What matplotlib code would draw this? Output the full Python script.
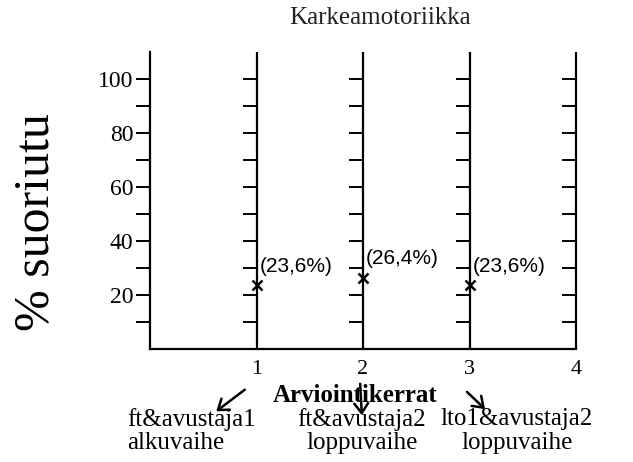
import matplotlib.pyplot as plt
from matplotlib.patches import FancyArrowPatch

# chart values
kerrat = [1, 2, 3, 4]                      # x tick positions / labels
pisteet_x = [1, 2, 3]
pisteet_y = [23.6, 26.4, 23.6]
pisteet_teksti = ['(23,6%)', '(26,4%)', '(23,6%)']
y_major = [20, 40, 60, 80, 100]
y_all = list(range(10, 101, 10))
alaotsikot = ['ft&avustaja1\nalkuvaihe', 'ft&avustaja2\nloppuvaihe', 'lto1&avustaja2\nloppuvaihe']

serif = 'Liberation Serif'
sans = 'Liberation Sans'
W, H = 633, 462


def fx(px):   # image pixel -> figure fraction
    return px / W


def fy(py):
    return 1 - py / H


fig = plt.figure(figsize=(6.33, 4.62), dpi=100)
ax = fig.add_axes([fx(150), fy(349), 426 / W, 297 / H])
ax.set_xlim(0, 4)
ax.set_ylim(0, 110)

for s in ['top', 'right']:
    ax.spines[s].set_visible(False)
for s in ['left', 'bottom']:
    ax.spines[s].set_linewidth(1.6)

# left axis ticks
ax.set_yticks(y_all)
ax.set_yticklabels([str(v) if v in y_major else '' for v in y_all],
                   fontfamily=serif, fontsize=17)
ax.tick_params(axis='y', length=10, width=1.4, direction='out', pad=2)

# bottom axis labels (no tick marks)
ax.set_xticks(kerrat)
ax.set_xticklabels([str(k) for k in kerrat], fontfamily=serif, fontsize=16)
ax.tick_params(axis='x', length=0, pad=8)

# the vertical lines with their own small ticks on the left side
ax.vlines(kerrat, 0, 110, colors='black', lw=1.6, clip_on=False)
for k in kerrat:
    ax.hlines(y_all, k - 0.13, k, colors='black', lw=1.4, clip_on=False)

# measured points
ax.plot(pisteet_x, pisteet_y, linestyle='none', marker='x', color='black',
        markersize=7, mew=1.8, clip_on=False)
for x, y, t in zip(pisteet_x, pisteet_y, pisteet_teksti):
    ax.annotate(t, (x, y), xytext=(2, 7), textcoords='offset points',
                ha='left', va='bottom', fontfamily=sans, fontsize=15)

# titles
fig.text(fx(380), fy(18), 'Karkeamotoriikka', ha='center', va='center',
         fontfamily=serif, fontsize=18, color='#222222')
fig.text(fx(36), fy(222), '% suoriutu', ha='center', va='center',
         rotation=90, fontfamily=serif, fontsize=36)
fig.text(fx(355), fy(396), 'Arviointikerrat', ha='center', va='center',
         fontfamily=serif, fontsize=18, fontweight='bold')

# captions under the axis with arrows
fig.text(fx(127), fy(431), alaotsikot[0], ha='left', va='center',
         fontfamily=serif, fontsize=18, linespacing=1.1)
fig.text(fx(362), fy(431), alaotsikot[1], ha='center', va='center',
         fontfamily=serif, fontsize=18, linespacing=1.1)
fig.text(fx(517), fy(431), alaotsikot[2], ha='center', va='center',
         fontfamily=serif, fontsize=18, linespacing=1.1)

nuolet = [((247, 388), (214, 413)), ((360, 381), (362, 418)), ((465, 390), (487, 411))]
for (x0, y0), (x1, y1) in nuolet:
    fig.add_artist(FancyArrowPatch(
        (fx(x0), fy(y0)), (fx(x1), fy(y1)), transform=fig.transFigure,
        arrowstyle='->,head_length=7,head_width=5', color='black', lw=1.8))

plt.savefig('out.png', dpi=100, facecolor='white')
plt.close()
